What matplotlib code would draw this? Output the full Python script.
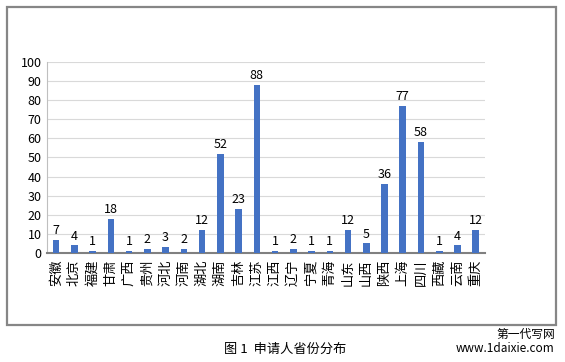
import matplotlib.pyplot as plt
from matplotlib.patches import Rectangle

plt.rcParams['font.family'] = ['Noto Sans CJK SC', 'DejaVu Sans']

# 申请人省份分布
provinces = ['安徽', '北京', '福建', '甘肃', '广西', '贵州', '河北', '河南', '湖北', '湖南',
             '吉林', '江苏', '江西', '辽宁', '宁夏', '青海', '山东', '山西', '陕西', '上海',
             '四川', '西藏', '云南', '重庆']
counts = [7, 4, 1, 18, 1, 2, 3, 2, 12, 52, 23, 88, 1, 2, 1, 1, 12, 5, 36, 77, 58, 1, 4, 12]
yticks = list(range(0, 101, 10))

fig = plt.figure(figsize=(5.65, 3.62), dpi=100)

# outer frame around the chart
fig.patches.append(Rectangle((0.0124, 0.102), 0.972, 0.879, transform=fig.transFigure,
                             fill=False, edgecolor='#868686', linewidth=1.6))

ax = fig.add_axes([0.0832, 0.301, 0.775, 0.528])
x = range(len(provinces))
bars = ax.bar(x, counts, width=0.36, color='#4472C4', zorder=3)

for xi, v in zip(x, counts):
    ax.text(xi, v + 1.5, str(v), ha='center', va='bottom', fontsize=9, color='#000000')

ax.set_xlim(-0.5, len(provinces) - 0.5)
ax.set_ylim(0, 100)
ax.set_yticks(yticks)
ax.set_xticks(list(x))
ax.set_xticklabels(provinces, rotation=90, fontsize=9.5)
ax.tick_params(axis='both', length=0, labelsize=9, pad=4)
ax.tick_params(axis='x', labelsize=9.5, pad=5)
ax.grid(axis='y', color='#d9d9d9', linewidth=0.8, zorder=0)

for s in ['top', 'right']:
    ax.spines[s].set_visible(False)
ax.spines['left'].set_color('#bfbfbf')
ax.spines['bottom'].set_color('#808080')
ax.spines['bottom'].set_linewidth(1.5)

fig.text(0.504, 0.036, '图 1  申请人省份分布', ha='center', va='center', fontsize=9.5)
fig.text(0.982, 0.077, '第一代写网', ha='right', va='center', fontsize=8.5)
fig.text(0.982, 0.036, 'www.1daixie.com', ha='right', va='center', fontsize=8.5)

fig.savefig('out.png', dpi=100)
